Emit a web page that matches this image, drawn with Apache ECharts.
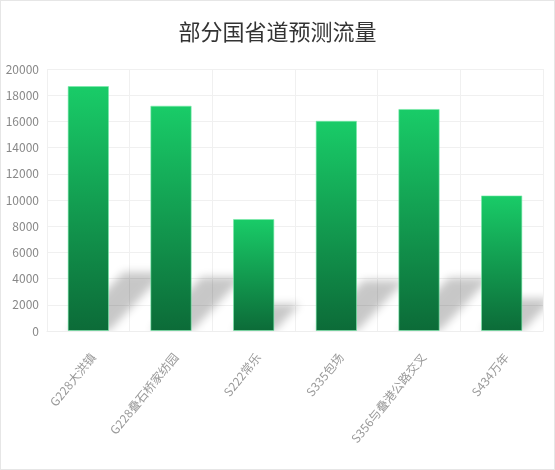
<!DOCTYPE html>
<html>
<head>
<meta charset="utf-8">
<script src="https://cdn.jsdelivr.net/npm/echarts@6/dist/echarts.min.js"></script>
<style>
html,body{margin:0;padding:0;background:#fff;}
#chart{width:555px;height:470px;box-sizing:border-box;border:1px solid #e6e6e6;}
</style>
</head>
<body>
<div id="chart"></div>
<script>
const categories = ['G228大洪镇', 'G228叠石桥家纺园', 'S222常乐', 'S335包场', 'S356与叠港公路交叉', 'S434万年'];
const flowValues = [18700, 17200, 8550, 16050, 16950, 10350];
const yTicks = { min: 0, max: 20000, interval: 2000 };

const chart = echarts.init(document.getElementById('chart'), null, { renderer: 'canvas' });

const shadowData = categories.map((c, i) => [i, flowValues[i]]);
const OFF = 1000;

chart.setOption({
  backgroundColor: '#fff',
  animation: false,
  title: {
    text: '部分国省道预测流量',
    left: 'center',
    top: 15,
    textStyle: { fontFamily: 'Noto Sans CJK SC', fontSize: 22, fontWeight: 'normal', color: '#333' }
  },
  grid: { left: 46, right: 11, top: 68, bottom: 138, containLabel: false },
  xAxis: {
    type: 'category',
    data: categories,
    axisLine: { show: true, lineStyle: { color: '#eeeeee' } },
    axisTick: { show: false },
    splitLine: { show: true, lineStyle: { color: '#f0f0f0' } },
    axisLabel: {
      rotate: 51,
      interval: 0,
      color: '#999',
      fontSize: 12,
      margin: 20,
      verticalAlign: 'top',
      fontFamily: 'Noto Sans CJK SC'
    }
  },
  yAxis: {
    type: 'value',
    min: yTicks.min,
    max: yTicks.max,
    interval: yTicks.interval,
    axisLine: { show: false },
    axisTick: { show: false },
    splitLine: { show: true, lineStyle: { color: '#f0f0f0' } },
    axisLabel: {
      color: '#888', fontSize: 12, margin: 8, fontFamily: 'Noto Sans CJK SC',
      formatter: function (v) { return String(v); }
    }
  },
  series: [
    {
      type: 'custom',
      z: 1,
      silent: true,
      clip: true,
      data: shadowData,
      renderItem: function (params, api) {
        const idx = api.value(0);
        const v = api.value(1);
        const base = api.coord([idx, 0]);
        const top = api.coord([idx, v]);
        const bw = api.size([1, 0])[0] * 0.5;
        const hs = (base[1] - top[1]) * 0.24;
        const dx = hs * 0.95;
        const l = base[0] - bw / 2 - OFF, r = base[0] + bw / 2 - OFF, y = base[1];
        return {
          type: 'polygon',
          shape: { points: [[l, y], [r, y], [r + dx, y - hs], [l + dx, y - hs]] },
          style: {
            fill: '#000',
            shadowBlur: 8,
            shadowOffsetX: OFF,
            shadowColor: 'rgba(0,0,0,0.22)'
          }
        };
      }
    },
    {
      type: 'bar',
      z: 3,
      data: flowValues,
      barWidth: '50%',
      itemStyle: {
        color: new echarts.graphic.LinearGradient(0, 0, 0, 1, [
          { offset: 0, color: '#19cc68' },
          { offset: 1, color: '#0c6b38' }
        ]),
        borderColor: 'rgba(120,235,170,0.6)',
        borderWidth: 1
      }
    }
  ]
});
</script>
</body>
</html>
